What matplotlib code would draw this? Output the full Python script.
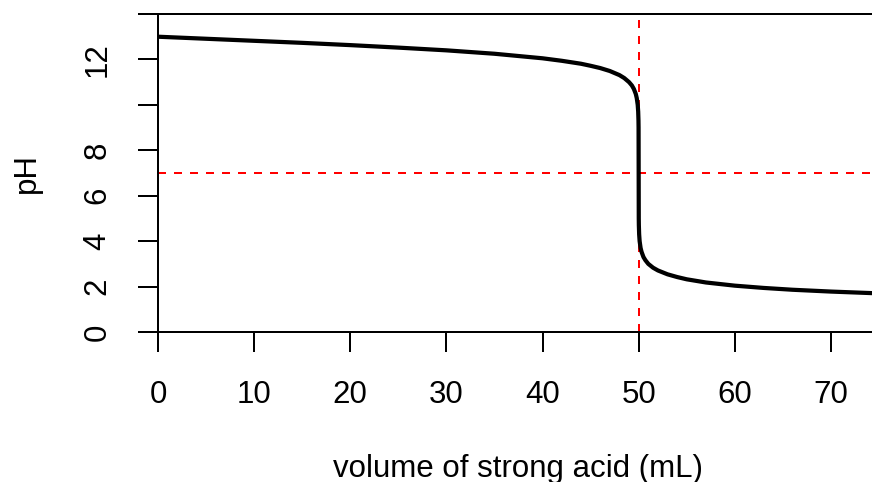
import matplotlib
matplotlib.use("Agg")
import matplotlib.pyplot as plt

plt.rcParams['font.family'] = ['Liberation Sans', 'DejaVu Sans']

# data
volume_ml = [0, 5, 10, 15, 20, 25, 30, 35, 40, 42, 44, 45, 46, 47, 48, 48.5,
             49, 49.3, 49.5, 49.7, 49.8, 49.9, 49.95, 49.98, 49.99, 50, 50.01,
             50.02, 50.05, 50.1, 50.2, 50.3, 50.5, 50.7, 51, 51.5, 52, 53, 54,
             55, 57, 60, 63, 66, 70, 75]
ph = [13.00, 12.91, 12.82, 12.73, 12.63, 12.52, 12.40, 12.25, 12.05, 11.94,
      11.81, 11.72, 11.62, 11.49, 11.31, 11.18, 11.00, 10.85, 10.70, 10.48,
      10.30, 10.00, 9.70, 9.30, 9.00, 7.00, 5.00, 4.70, 4.30, 4.00, 3.70,
      3.53, 3.30, 3.16, 3.00, 2.83, 2.71, 2.54, 2.42, 2.32, 2.18, 2.04, 1.94,
      1.86, 1.78, 1.70]
equiv_volume = 50
neutral_ph = 7
x_ticks = [0, 10, 20, 30, 40, 50, 60, 70]
y_ticks = [0, 2, 4, 6, 8, 10, 12, 14]
y_tick_labels = ['0', '2', '4', '6', '8', '', '12', '']

W, H = 872, 482
fig = plt.figure(figsize=(W / 100, H / 100), dpi=100)
ax = fig.add_axes([158 / W, 1 - 332 / H, (879 - 158) / W, (332 - 14) / H])

px = 72 / 100  # points per pixel
ax.plot(volume_ml, ph, color='black', lw=4.2 * px, solid_joinstyle='round',
        solid_capstyle='butt', zorder=3)
ax.axvline(equiv_volume, color='#ff0000', lw=2 * px, dashes=(4, 4), zorder=2)
ax.axhline(neutral_ph, color='#ff0000', lw=2 * px, dashes=(4, 4), zorder=2)

ax.set_xlim(0, 75)
ax.set_ylim(0, 14)
ax.set_xticks(x_ticks)
ax.set_xticklabels([str(t) for t in x_ticks])
ax.set_yticks(y_ticks)
ax.set_yticklabels(y_tick_labels, rotation=90, va='center', ha='right')

for s in ['left', 'top', 'bottom', 'right']:
    ax.spines[s].set_linewidth(2 * px)
    ax.spines[s].set_color('black')

FS = 22.5
ax.tick_params(axis='both', direction='out', length=20 * px, width=2 * px,
               labelsize=FS, colors='black')
ax.tick_params(axis='x', pad=20)
ax.tick_params(axis='y', pad=18.5)

fig.text(518 / W, 1 - 477 / H, 'volume of strong acid (mL)', ha='center',
         va='baseline', fontsize=FS)
fig.text(27 / W, 1 - 173 / H, 'pH', ha='center', va='center', rotation=90,
         fontsize=FS)

fig.savefig('out.png', dpi=100)
